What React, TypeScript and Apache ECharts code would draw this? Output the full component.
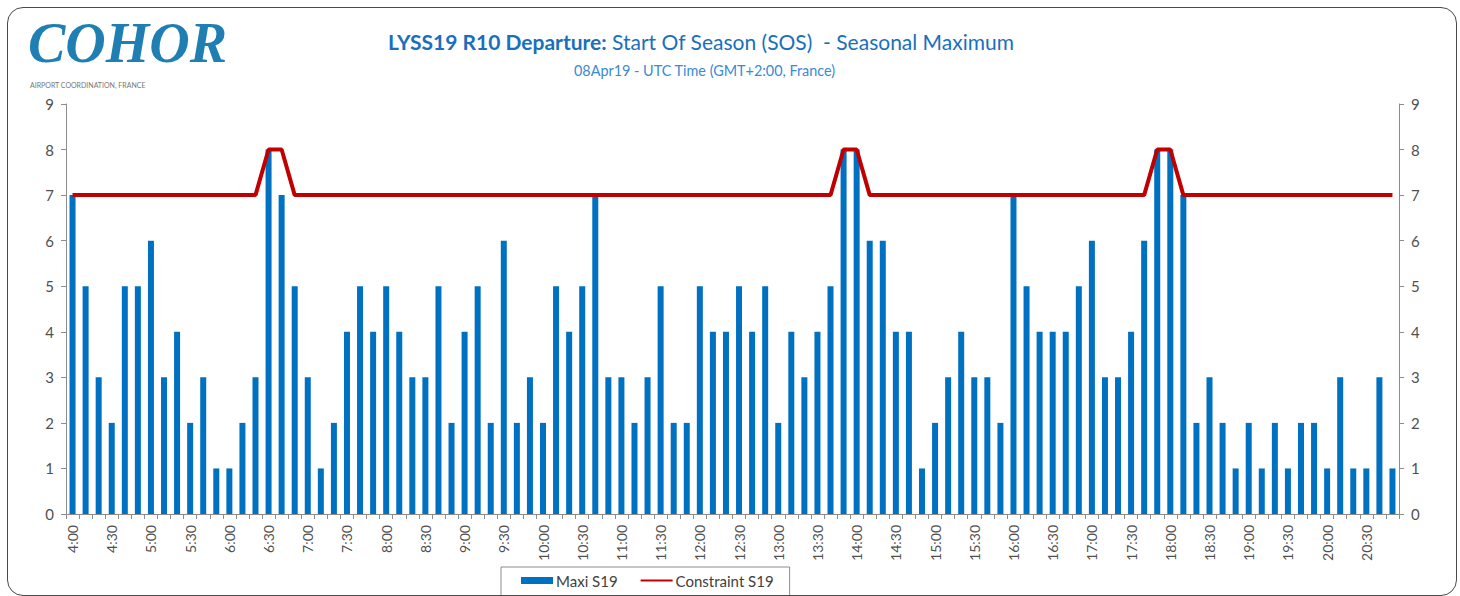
import React, { useEffect, useRef } from 'react';
import * as echarts from 'echarts';

const times = [
  '4:00', '4:10', '4:20', '4:30', '4:40', '4:50',
  '5:00', '5:10', '5:20', '5:30', '5:40', '5:50',
  '6:00', '6:10', '6:20', '6:30', '6:40', '6:50',
  '7:00', '7:10', '7:20', '7:30', '7:40', '7:50',
  '8:00', '8:10', '8:20', '8:30', '8:40', '8:50',
  '9:00', '9:10', '9:20', '9:30', '9:40', '9:50',
  '10:00', '10:10', '10:20', '10:30', '10:40', '10:50',
  '11:00', '11:10', '11:20', '11:30', '11:40', '11:50',
  '12:00', '12:10', '12:20', '12:30', '12:40', '12:50',
  '13:00', '13:10', '13:20', '13:30', '13:40', '13:50',
  '14:00', '14:10', '14:20', '14:30', '14:40', '14:50',
  '15:00', '15:10', '15:20', '15:30', '15:40', '15:50',
  '16:00', '16:10', '16:20', '16:30', '16:40', '16:50',
  '17:00', '17:10', '17:20', '17:30', '17:40', '17:50',
  '18:00', '18:10', '18:20', '18:30', '18:40', '18:50',
  '19:00', '19:10', '19:20', '19:30', '19:40', '19:50',
  '20:00', '20:10', '20:20', '20:30', '20:40', '20:50',
];

const maxiS19 = [
  7, 5, 3, 2, 5, 5,
  6, 3, 4, 2, 3, 1,
  1, 2, 3, 8, 7, 5,
  3, 1, 2, 4, 5, 4,
  5, 4, 3, 3, 5, 2,
  4, 5, 2, 6, 2, 3,
  2, 5, 4, 5, 7, 3,
  3, 2, 3, 5, 2, 2,
  5, 4, 4, 5, 4, 5,
  2, 4, 3, 4, 5, 8,
  8, 6, 6, 4, 4, 1,
  2, 3, 4, 3, 3, 2,
  7, 5, 4, 4, 4, 5,
  6, 3, 3, 4, 6, 8,
  8, 7, 2, 3, 2, 1,
  2, 1, 2, 1, 2, 2,
  1, 3, 1, 1, 3, 1,
];

const constraintS19 = [
  7, 7, 7, 7, 7, 7,
  7, 7, 7, 7, 7, 7,
  7, 7, 7, 8, 8, 7,
  7, 7, 7, 7, 7, 7,
  7, 7, 7, 7, 7, 7,
  7, 7, 7, 7, 7, 7,
  7, 7, 7, 7, 7, 7,
  7, 7, 7, 7, 7, 7,
  7, 7, 7, 7, 7, 7,
  7, 7, 7, 7, 7, 8,
  8, 7, 7, 7, 7, 7,
  7, 7, 7, 7, 7, 7,
  7, 7, 7, 7, 7, 7,
  7, 7, 7, 7, 7, 8,
  8, 7, 7, 7, 7, 7,
  7, 7, 7, 7, 7, 7,
  7, 7, 7, 7, 7, 7,
];

const titleBold = 'LYSS19 R10 Departure:';
const titleRest = ' Start Of Season (SOS)  - Seasonal Maximum';
const subTitle = '08Apr19 - UTC Time (GMT+2:00, France)';

const FONT = 'Lato, "Open Sans", sans-serif';
const AXIS_COLOR = '#8c8c8c';
const LABEL_COLOR = '#505050';

export default function App() {
  const ref = useRef<HTMLDivElement>(null);

  useEffect(() => {
    if (!ref.current) return;
    const chart = echarts.init(ref.current, undefined, { renderer: 'svg' });
    const yAxisCommon = {
      type: 'value',
      min: 0,
      max: 9,
      interval: 1,
      splitLine: { show: false },
      axisLine: { show: true, lineStyle: { color: AXIS_COLOR, width: 1 } },
      axisTick: { show: true, length: 5, lineStyle: { color: AXIS_COLOR } },
      axisLabel: { fontSize: 15, color: LABEL_COLOR, fontFamily: FONT, margin: 12 },
    };
    chart.setOption({
      animation: false,
      backgroundColor: '#ffffff',
      title: [
        {
          text: `{b|${titleBold}}{n|${titleRest}}`,
          left: 383,
          top: 26,
          textStyle: {
            rich: {
              b: { fontFamily: FONT, fontWeight: 'bold', fontSize: 21, color: '#1a6fbd' },
              n: { fontFamily: FONT, fontWeight: 'normal', fontSize: 21, color: '#1a6fbd' },
            },
          },
        },
        {
          text: subTitle,
          left: 569,
          top: 58,
          textStyle: { fontFamily: FONT, fontWeight: 'normal', fontSize: 14.4, color: '#3a8ad4' },
        },
      ],
      graphic: [
        {
          type: 'text',
          x: 28,
          y: 43,
          style: {
            text: 'COHOR',
            fontFamily: '"Liberation Serif", serif',
            fontStyle: 'italic',
            fontWeight: 'bold',
            fontSize: 56,
            fill: '#1f7fb3',
            align: 'left',
            verticalAlign: 'middle',
          },
        },
        {
          type: 'text',
          x: 30,
          y: 85,
          style: {
            text: 'AIRPORT COORDINATION, FRANCE',
            fontFamily: FONT,
            fontSize: 7,
            fill: '#777777',
            align: 'left',
            verticalAlign: 'middle',
          },
        },
      ],
      legend: {
        left: 501,
        top: 567,
        padding: [6, 16, 8, 20],
        borderColor: '#8c8c8c',
        borderWidth: 1,
        itemWidth: 32,
        itemHeight: 7,
        itemGap: 22,
        textStyle: { fontFamily: FONT, fontSize: 15, color: '#404040', padding: [0, 0, 0, -2] },
        data: [
          { name: 'Maxi S19', icon: 'rect' },
          { name: 'Constraint S19', itemStyle: { opacity: 0 } },
        ],
      },
      grid: { left: 66, right: 61, top: 104, bottom: 82 },
      xAxis: {
        type: 'category',
        data: times,
        boundaryGap: true,
        axisLine: { show: true, lineStyle: { color: AXIS_COLOR, width: 1 } },
        axisTick: { show: true, interval: 0, length: 5, lineStyle: { color: AXIS_COLOR } },
        axisLabel: {
          interval: 2,
          rotate: 90,
          fontSize: 14,
          color: LABEL_COLOR,
          fontFamily: FONT,
          margin: 11,
        },
      },
      yAxis: [
        { ...yAxisCommon, position: 'left' },
        { ...yAxisCommon, position: 'right' },
      ],
      series: [
        {
          name: 'Maxi S19',
          type: 'bar',
          data: maxiS19,
          yAxisIndex: 0,
          barWidth: 6,
          itemStyle: { color: '#0070c0' },
        },
        {
          name: 'Constraint S19',
          type: 'line',
          data: constraintS19,
          yAxisIndex: 0,
          symbol: 'none',
          lineStyle: { color: '#c00000', width: 4 },
          itemStyle: { color: '#c00000' },
          z: 5,
        },
      ],
    });
    return () => chart.dispose();
  }, []);

  return (
    <>
      <div
        ref={ref}
        style={{ position: 'fixed', left: 0, top: 0, width: 1460, height: 596 }}
      />
      <div
        style={{
          position: 'fixed',
          left: 7,
          top: 7,
          width: 1450,
          height: 589,
          border: '1.5px solid #4a4a4a',
          borderRadius: 16,
          boxSizing: 'border-box',
          pointerEvents: 'none',
        }}
      />
    </>
  );
}
